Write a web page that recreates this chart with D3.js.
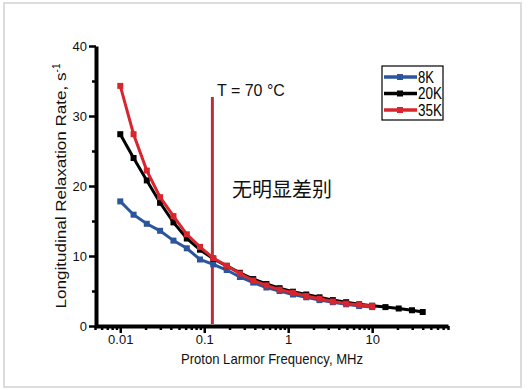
<!DOCTYPE html>
<html>
<head>
<meta charset="utf-8">
<script src="https://cdn.jsdelivr.net/npm/d3@7"></script>
<style>
  body { margin: 0; background: #fff; }
  svg { display: block; font-family: "Liberation Sans", Arial, sans-serif; }
</style>
</head>
<body>
<svg id="chart" width="528" height="390"></svg>
<script>
// frequencies (MHz)
const freqs = [0.01, 0.0144, 0.0207, 0.0298, 0.043, 0.062, 0.089, 0.128, 0.185, 0.266,
               0.383, 0.55, 0.79, 1.14, 1.64, 2.36, 3.4, 4.9, 7.0, 10];
const freqsLong = freqs.concat([14.4, 20.7, 29.8, 40]);

// relaxation rates, s^-1
const rate8K  = [17.8, 15.9, 14.6, 13.6, 12.2, 11.1, 9.5, 8.8, 8.0, 7.0,
                 6.2, 5.5, 5.0, 4.5, 4.1, 3.7, 3.4, 3.1, 2.85, 2.7];
const rate20K = [27.4, 24.0, 20.8, 17.6, 14.8, 12.5, 10.9, 9.6, 8.6, 7.6,
                 6.7, 6.0, 5.4, 4.9, 4.5, 4.1, 3.7, 3.4, 3.1, 2.9, 2.7, 2.5, 2.25, 2.0];
const rate35K = [34.3, 27.4, 22.2, 18.4, 15.7, 13.1, 11.3, 9.7, 8.6, 7.5,
                 6.5, 5.8, 5.2, 4.75, 4.3, 3.9, 3.5, 3.2, 3.0, 2.85];

const seriesNames = ['8K', '20K', '35K'];
const seriesColors = ['#2b559c', '#000000', '#d8262e'];

const majorTicks = [0.01, 0.1, 1, 10];
const minorTicks = [0.005, 0.006, 0.007, 0.008, 0.009,
                    0.02, 0.03, 0.04, 0.05, 0.06, 0.07, 0.08, 0.09,
                    0.2, 0.3, 0.4, 0.5, 0.6, 0.7, 0.8, 0.9,
                    2, 3, 4, 5, 6, 7, 8, 9,
                    20, 30, 40, 50, 60, 70, 80];
const yMajor = [0, 10, 20, 30, 40];
const yMinor = [5, 15, 25, 35];

const tempFreq = 0.125; // position of the red vertical marker

const svg = d3.select('#chart');

// light frame around the picture
svg.append('rect')
  .attr('x', 4).attr('y', 3).attr('width', 517).attr('height', 384)
  .attr('fill', 'none').attr('stroke', '#dcdcdc').attr('stroke-width', 2);

const x = d3.scaleLog().domain([0.005, 80]).range([95, 448]);
const y = d3.scaleLinear().domain([0, 40]).range([326, 46]);

const series = [
  { name: seriesNames[0], color: seriesColors[0], data: freqs.map((f, i) => [f, rate8K[i]]) },
  { name: seriesNames[1], color: seriesColors[1], data: freqsLong.map((f, i) => [f, rate20K[i]]) },
  { name: seriesNames[2], color: seriesColors[2], data: freqs.map((f, i) => [f, rate35K[i]]) }
];

// axes
const xMinorAxis = d3.axisBottom(x).tickValues(minorTicks).tickSize(4).tickFormat('');
svg.append('g').attr('transform', 'translate(0,326)').call(xMinorAxis)
  .call(g => g.select('.domain').remove())
  .selectAll('line').attr('stroke-width', 2.5);

const xAxis = d3.axisBottom(x).tickValues(majorTicks).tickSize(7).tickPadding(2)
  .tickFormat(d => d3.format('~g')(d)).tickSizeOuter(0);
const gx = svg.append('g').attr('transform', 'translate(0,326)').call(xAxis);
gx.select('.domain').attr('stroke-width', 4);
gx.selectAll('.tick line').attr('stroke-width', 2.5);
gx.selectAll('text').attr('font-size', 13).attr('fill', '#111');

const yMinorAxis = d3.axisLeft(y).tickValues(yMinor).tickSize(4).tickFormat('');
svg.append('g').attr('transform', 'translate(96,0)').call(yMinorAxis)
  .call(g => g.select('.domain').remove())
  .selectAll('line').attr('stroke-width', 2.5);

const yAxis = d3.axisLeft(y).tickValues(yMajor).tickSize(7).tickSizeOuter(0);
const gy = svg.append('g').attr('transform', 'translate(96,0)').call(yAxis);
gy.select('.domain').attr('stroke-width', 4);
gy.selectAll('.tick line').attr('stroke-width', 2.5);
gy.selectAll('text').attr('font-size', 13).attr('x', -9).attr('fill', '#111');

// axis titles
svg.append('text')
  .attr('x', 272).attr('y', 364)
  .attr('text-anchor', 'middle').attr('font-size', 15).attr('fill', '#111')
  .attr('textLength', 182).attr('lengthAdjust', 'spacingAndGlyphs')
  .text('Proton Larmor Frequency, MHz');

const yTitle = svg.append('text')
  .attr('transform', 'translate(66,186) rotate(-90)')
  .attr('text-anchor', 'middle').attr('font-size', 15).attr('fill', '#111');
yTitle.append('tspan')
  .attr('textLength', 236).attr('lengthAdjust', 'spacingAndGlyphs')
  .text('Longitudinal Relaxation Rate, s');
yTitle.append('tspan').attr('dy', -6).attr('font-size', 10).text('-1');

// vertical temperature marker
svg.append('line')
  .attr('x1', x(tempFreq)).attr('x2', x(tempFreq))
  .attr('y1', 97).attr('y2', 324)
  .attr('stroke', '#b92f3a').attr('stroke-width', 3);

svg.append('text')
  .attr('x', 217).attr('y', 96)
  .attr('font-size', 16).attr('fill', '#111')
  .text('T = 70 °C');

svg.append('text')
  .attr('x', 232).attr('y', 197)
  .attr('font-size', 20).attr('fill', '#111')
  .attr('font-family', '"Noto Sans CJK SC", sans-serif')
  .text('无明显差别');

// series lines and markers
const line = d3.line().x(d => x(d[0])).y(d => y(d[1]));

series.forEach(s => {
  const g = svg.append('g');
  g.append('path')
    .datum(s.data)
    .attr('d', line)
    .attr('fill', 'none')
    .attr('stroke', s.color)
    .attr('stroke-width', 3);
  g.selectAll('rect')
    .data(s.data)
    .enter()
    .append('rect')
    .attr('x', d => x(d[0]) - 3)
    .attr('y', d => y(d[1]) - 3)
    .attr('width', 6).attr('height', 6)
    .attr('fill', s.color);
});

// legend
const legend = svg.append('g');
legend.append('rect')
  .attr('x', 382).attr('y', 66).attr('width', 61).attr('height', 54)
  .attr('fill', '#fff').attr('stroke', '#000').attr('stroke-width', 1.2);

series.forEach((s, i) => {
  const ly = 77 + i * 16.5;
  legend.append('line')
    .attr('x1', 384).attr('x2', 417).attr('y1', ly).attr('y2', ly)
    .attr('stroke', s.color).attr('stroke-width', 3.5);
  legend.append('rect')
    .attr('x', 397).attr('y', ly - 3).attr('width', 6).attr('height', 6)
    .attr('fill', s.color);
  legend.append('text')
    .attr('x', 418).attr('y', ly + 5.5)
    .attr('font-size', 16).attr('fill', '#000')
    .attr('textLength', s.name.length === 2 ? 16 : 24)
    .attr('lengthAdjust', 'spacingAndGlyphs')
    .text(s.name);
});
</script>
</body>
</html>
